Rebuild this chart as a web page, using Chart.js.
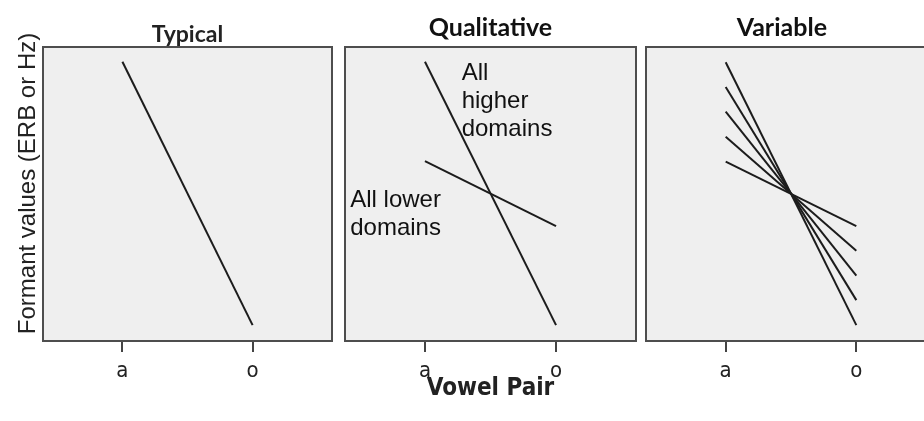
<!DOCTYPE html>
<html>
<head>
<meta charset="utf-8">
<script src="https://cdn.jsdelivr.net/npm/chart.js@4.4.1/dist/chart.umd.min.js"></script>
<style>
html,body{margin:0;padding:0;background:#ffffff;width:924px;height:421px;overflow:hidden;position:relative}
canvas{position:absolute;top:0}
</style>
</head>
<body>
<canvas id="c1" style="left:0px" width="337" height="421"></canvas>
<canvas id="c2" style="left:337px" width="304" height="421"></canvas>
<canvas id="c3" style="left:641px" width="300" height="421"></canvas>
<script>
// ---- data ----
const vowels = ['a', 'o'];
const panelTitles = ['Typical', 'Qualitative', 'Variable'];
const yAxisTitle = 'Formant values (ERB or Hz)';
const xAxisTitle = 'Vowel Pair';
const higherLabel = ['All', 'higher', 'domains'];
const lowerLabel = ['All lower', 'domains'];

const typicalStart = [95.0];
const typicalEnd = [5.4];
const qualitativeStart = [95.0, 61.2];
const qualitativeEnd = [5.4, 39.1];
const variableStart = [94.8, 86.4, 78.0, 69.5, 61.0];
const variableEnd = [5.4, 13.9, 22.2, 30.7, 39.1];

// ---- helpers ----
function makeDatasets(starts, ends) {
  return starts.map((s, i) => ({
    data: [{x: 0, y: s}, {x: 1, y: ends[i]}],
    borderColor: '#1c1c1c',
    borderWidth: 2,
    pointRadius: 0,
    fill: false,
    tension: 0
  }));
}

const panelDeco = {
  id: 'panelDeco',
  beforeDraw(chart, args, opts) {
    const {ctx, chartArea: a} = chart;
    ctx.save();
    ctx.fillStyle = opts.fill;
    ctx.fillRect(a.left, a.top, a.right - a.left, a.bottom - a.top);
    ctx.restore();
  },
  afterDatasetsDraw(chart, args, opts) {
    const {ctx, chartArea: a} = chart;
    ctx.save();
    ctx.strokeStyle = opts.border;
    ctx.lineWidth = 2;
    ctx.strokeRect(a.left, a.top, a.right - a.left, a.bottom - a.top);
    ctx.restore();
  },
  afterDraw(chart, args, opts) {
    const {ctx} = chart;
    const xs = chart.scales.x, ys = chart.scales.y;
    (opts.texts || []).forEach(t => {
      ctx.save();
      ctx.font = t.font;
      ctx.fillStyle = t.color || '#111';
      ctx.textAlign = t.align || 'left';
      ctx.textBaseline = 'alphabetic';
      const px = t.px !== undefined ? t.px : xs.getPixelForValue(t.x);
      const py = t.py !== undefined ? t.py : ys.getPixelForValue(t.y);
      ctx.translate(px, py);
      if (t.rotate) ctx.rotate(t.rotate);
      t.lines.forEach((l, i) => ctx.fillText(l, 0, i * (t.lh || 0)));
      ctx.restore();
    });
  }
};

const tickFont = {family: "'Liberation Sans Narrow','DejaVu Sans Condensed',sans-serif", size: 22};

function makeConfig(datasets, padL, padR, texts, xTitle) {
  return {
    type: 'line',
    data: {datasets},
    plugins: [panelDeco],
    options: {
      responsive: false,
      animation: false,
      layout: {padding: {left: padL, right: padR, top: 47, bottom: 0}},
      plugins: {
        legend: {display: false},
        tooltip: {enabled: false},
        panelDeco: {fill: '#efefef', border: '#4e4e4e', texts}
      },
      scales: {
        x: {
          type: 'linear',
          min: -0.61,
          max: 1.61,
          afterBuildTicks(scale) { scale.ticks = [{value: 0}, {value: 1}]; },
          afterFit(scale) { scale.height = 80; },
          ticks: {
            autoSkip: false,
            maxRotation: 0,
            padding: 6,
            color: '#222',
            font: tickFont,
            callback: (v) => vowels[Math.round(v)]
          },
          grid: {drawOnChartArea: false, drawTicks: true, tickLength: 11, tickColor: '#444', lineWidth: 2},
          border: {display: false},
          title: xTitle ? {
            display: true,
            text: xTitle,
            color: '#222',
            font: {family: "'Liberation Sans Narrow','DejaVu Sans Condensed',sans-serif", size: 24, weight: 'bold'},
            padding: {top: 0, bottom: 18}
          } : {display: false}
        },
        y: {
          type: 'linear',
          min: 0,
          max: 100,
          display: false
        }
      }
    }
  };
}

const titleFont = "bold 25px 'Lato', sans-serif";
const annFont = "24px 'Liberation Sans', Arial, sans-serif";

new Chart(document.getElementById('c1'), makeConfig(
  makeDatasets(typicalStart, typicalEnd), 43, 5,
  [
    {lines: [panelTitles[0]], x: 0.5, py: 42, font: "bold 23px 'Lato', sans-serif", align: 'center', color: '#222'},
    {lines: [yAxisTitle], px: 35, py: 183.5, rotate: -Math.PI / 2, font: "24px 'Liberation Sans', Arial, sans-serif", align: 'center', color: '#222'}
  ]
));

new Chart(document.getElementById('c2'), makeConfig(
  makeDatasets(qualitativeStart, qualitativeEnd), 8, 5,
  [
    {lines: [panelTitles[1]], x: 0.5, py: 36, font: titleFont, align: 'center', color: '#111'},
    {lines: higherLabel, x: 0.28, y: 88.8, lh: 28, font: annFont, align: 'left'},
    {lines: lowerLabel, x: -0.57, y: 45.6, lh: 28, font: annFont, align: 'left'}
  ],
  xAxisTitle
));

new Chart(document.getElementById('c3'), makeConfig(
  makeDatasets(variableStart, variableEnd), 5, 5,
  [
    {lines: [panelTitles[2]], x: 0.43, py: 36, font: titleFont, align: 'center', color: '#111'}
  ]
));
</script>
</body>
</html>
